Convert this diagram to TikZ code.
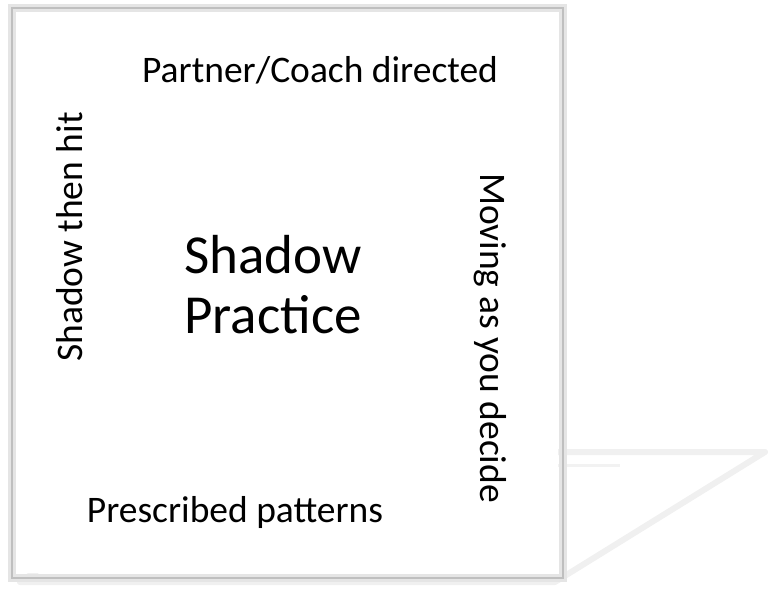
\documentclass[tikz,border=0pt]{standalone}
\usepackage{fontspec}
\setmainfont{Carlito}
\begin{document}
\begin{tikzpicture}[x=1pt,y=-1pt,
    label text/.style={font=\fontsize{37.5}{42}\selectfont,inner sep=0pt},
    title text/.style={font=\fontsize{55}{60}\selectfont,align=center,inner sep=0pt}]
  \useasboundingbox (0,0) rectangle (768,592);
  % faint reflection
  \draw[gray!12,line width=6pt,line join=round]
    (215,452) -- (765,452) -- (555,582) -- (20,582) -- cycle;
  \draw[gray!10,line width=3pt] (330,465) -- (620,465);
  \draw[gray!10,line width=3pt] (150,560) -- (400,560);
  % card with soft border
  \draw[gray!20,line width=8pt] (12,8) rectangle (563,578);
  \draw[gray!50,line width=2pt] (12,8) rectangle (563,578);
  \fill[white] (17,13) rectangle (558,573);
  \node[label text] (top) at (320,70) {Partner/Coach directed};
  \node[label text,rotate=90] (left) at (70,237) {Shadow then hit};
  \node[label text,rotate=-90] (right) at (490,338) {Moving as you decide};
  \node[label text] (bottom) at (235,512) {Prescribed patterns};
  \node[title text] (centre) at (273,285) {Shadow\\Practice};
\end{tikzpicture}
\end{document}
